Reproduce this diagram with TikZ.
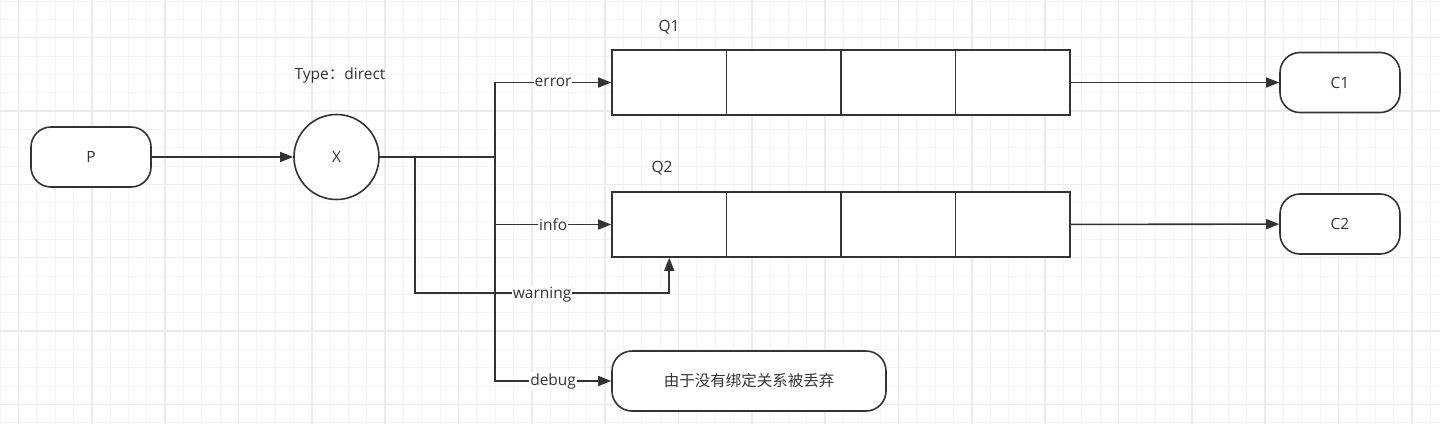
\documentclass[tikz,border=0pt]{standalone}
\usepackage{fontspec}
\setmainfont{Open Sans}
\newfontfamily\cjk{Noto Sans CJK SC}
\usetikzlibrary{arrows.meta,positioning}
\definecolor{ink}{HTML}{333333}
\definecolor{gridminor}{HTML}{F4F4F4}
\definecolor{gridmajor}{HTML}{EBEBEB}
\tikzset{
  pill/.style={draw=ink, line width=1.6pt, rounded corners=20pt, minimum width=120pt, minimum height=60pt, fill=white},
  hub/.style={draw=ink, circle, line width=1.6pt, minimum size=85pt, fill=white},
  cell/.style={draw=ink, line width=1.6pt, minimum width=114.5pt, minimum height=65pt, fill=white},
  flow/.style={draw=ink, line width=1.6pt, -{Triangle[length=13pt,width=10pt]}},
  wire/.style={draw=ink, line width=1.6pt},
  lbl/.style={fill=white, inner sep=1pt, text=ink},
}
\begin{document}
\begin{tikzpicture}[x=1pt, y=-1pt, every node/.style={text=ink, font=\fontsize{15.5pt}{18pt}\selectfont}]
  \useasboundingbox[fill=white] (0,0) rectangle (1440,424);
  % grid
  \foreach \i in {0,...,78} {
    \draw[gridminor, line width=1pt] ({0.17+\i*18.333},0) -- ({0.17+\i*18.333},424);
  }
  \foreach \i in {0,...,23} {
    \draw[gridminor, line width=1pt] (0,{1.03+\i*18.333}) -- (1440,{1.03+\i*18.333});
  }
  \foreach \i in {0,...,19} {
    \draw[gridmajor, line width=1.5pt] ({18.5+\i*73.333},0) -- ({18.5+\i*73.333},424);
  }
  \foreach \i in {0,...,5} {
    \draw[gridmajor, line width=1.5pt] (0,{37.7+\i*73.333}) -- (1440,{37.7+\i*73.333});
  }

  % nodes
  \node[pill] (P) at (91,157) {P};
  \node[hub] (X) at (336.5,157) {X};
  \node (type) at (340,75) {Type{\cjk ：}direct};
  \foreach \k/\n in {669.25/a, 783.75/b, 898.25/c, 1012.75/d} {
    \node[cell] (q1\n) at (\k,82.5) {};
    \node[cell] (q2\n) at (\k,224.5) {};
  }
  \node (q1lbl) at (669,27) {Q1};
  \node (q2lbl) at (662,168) {Q2};
  \node[pill] (C1) at (1340,82.5) {C1};
  \node[pill] (C2) at (1340,224) {C2};
  \node[pill, minimum width=274pt] (drop) at (749,381) {\cjk 由于没有绑定关系被丢弃};
  \coordinate (fork) at (415,157);
  \coordinate (split) at (495,157);

  % edges
  \draw[flow] (P) -- (X);
  \draw[wire] (X) -- (split);
  \draw[flow] (split) |- node[lbl, pos=0.75] {error} (q1a.west);
  \draw[flow] (split) |- node[lbl, pos=0.75] {info} (q2a.west);
  \draw[flow] (fork) |- node[lbl, pos=0.75, yshift=-2pt] {warning} ([yshift=-35pt]q2a.south) -- (q2a.south);
  \draw[flow] (split) |- node[lbl, pos=0.75] {debug} (drop.west);
  \draw[flow] (q1d) -- (C1);
  \draw[flow] (q2d) -- (C2);
\end{tikzpicture}
\end{document}
